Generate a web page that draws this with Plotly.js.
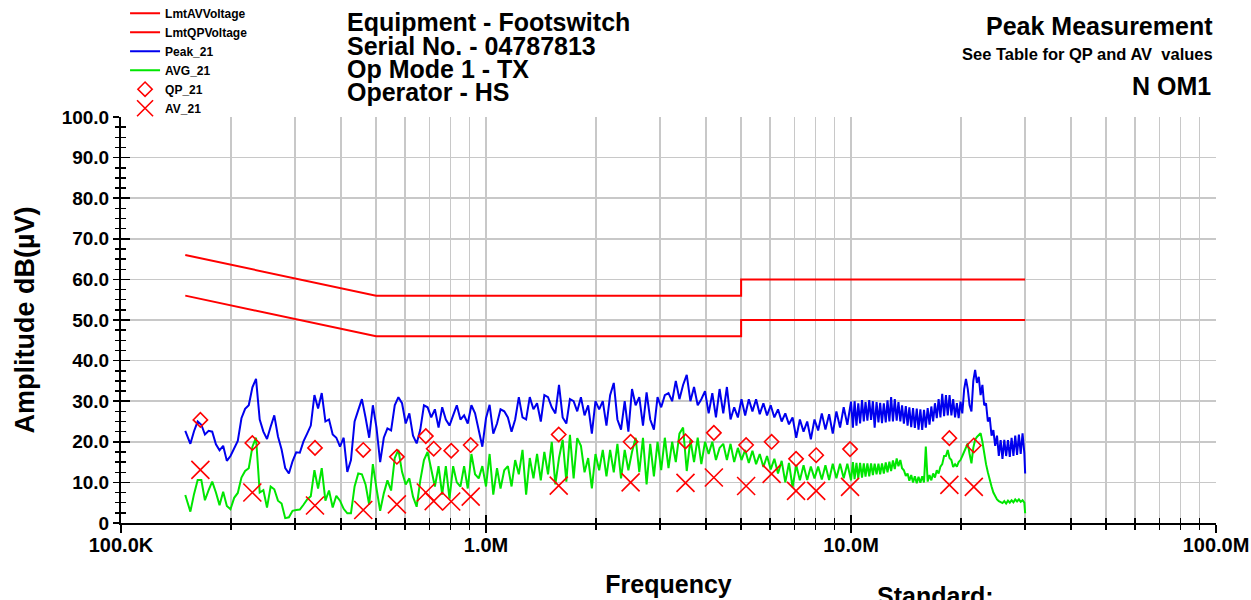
<!DOCTYPE html>
<html>
<head>
<meta charset="utf-8">
<script src="https://cdn.plot.ly/plotly-3.0.1.min.js"></script>
<style>html,body{margin:0;padding:0;background:#fff;}#chart{width:1251px;height:600px;}</style>
</head>
<body>
<div id="chart"></div>
<script>
// ---------- Limit lines (frequency in MHz, level in dBµV) ----------
const limitFreq = [0.15, 0.5, 5, 5, 30];
const limitQP = [66, 56, 56, 60, 60];
const limitAV = [56, 46, 46, 50, 50];

// ---------- Sweep frequencies (MHz) ----------
const freqLow = [0.150, 0.1514,0.1549,0.1585,0.1622,0.1660,0.1698,0.1738,0.1778,0.1820,0.1862,
  0.1905,0.1950,0.1995,0.2042,0.2089,0.2138,0.2188,0.2239,0.2291,0.2344,
  0.2399,0.2455,0.2512,0.2570,0.2630,0.2692,0.2754,0.2818,0.2884,0.2951,
  0.3020,0.3090,0.3162,0.3236,0.3311,0.3388,0.3467,0.3548,0.3631,0.3715,
  0.3802,0.3890,0.3981,0.4074,0.4169,0.4266,0.4365,0.4467,0.4571,0.4677,
  0.4786,0.4898,0.5012,0.5129,0.5248,0.5370,0.5495,0.5623,0.5754];
const freqMid = [0.5888,0.6026,0.6166,0.6310,0.6457,0.6607,0.6761,0.6918,0.7079,0.7244,
  0.7413,0.7586,0.7762,0.7943,0.8128,0.8318,0.8511,0.8710,0.8913,0.9120,
  0.9333,0.9550,0.9772,1.000,1.023,1.047,1.072,1.096,1.122,1.148,
  1.175,1.202,1.230,1.259,1.288,1.318,1.349,1.380,1.413,1.445,
  1.479,1.514,1.549,1.585,1.622,1.660,1.698,1.738,1.778,1.820,
  1.862,1.905,1.950,1.995,2.042,2.089,2.138,2.188,2.239,2.291,
  2.344,2.399,2.455,2.512,2.570,2.630,2.692,2.754,2.818,2.884,
  2.951,3.020,3.090,3.162,3.236,3.311,3.388,3.467,3.548,3.631,
  3.715,3.802,3.890,3.981,4.074,4.169,4.266,4.365,4.467,4.571,
  4.677,4.786,4.898,5.012,5.129,5.248,5.370,5.495,5.623,5.754,
  5.888,6.026,6.166,6.310,6.457,6.607,6.761,6.918,7.079,7.244,
  7.413,7.586,7.762,7.943,8.128,8.318,8.511,8.710,8.913,9.120,
  9.333,9.550,9.772];
const freqHigh = [10.00,10.12,10.23,10.35,10.47,10.59,10.72,10.84,10.96,11.09,
  11.22,11.35,11.48,11.61,11.75,11.89,12.02,12.16,12.30,12.45,
  12.59,12.74,12.88,13.03,13.18,13.34,13.49,13.65,13.80,13.96,
  14.13,14.29,14.45,14.62,14.79,14.96,15.14,15.31,15.49,15.67,
  15.85,16.03,16.22,16.41,16.60,16.79,16.98,17.18,17.38,17.58,
  17.78,17.99,18.20,18.41,18.62,18.84,19.05,19.28,19.50,19.72,
  19.95,20.18,20.42,20.65,20.89,21.13,21.38,21.63,21.88,22.13,
  22.39,22.65,22.91,23.17,23.44,23.71,23.99,24.27,24.55,24.83,
  25.12,25.41,25.70,26.00,26.30,26.61,26.92,27.23,27.54,27.86,
  28.18,28.51,28.84,29.17,29.51,29.85,30.00];

// ---------- Peak_21 (dBµV) ----------
const peakLow = [22.7, 21.8,19.5,22.6,25.0,24.2,21.8,22.7,22.5,19.4,17.9,
  19.0,15.3,16.5,18.3,20.2,25.8,28.1,29.0,33.4,35.5,
  25.5,22.5,20.7,23.7,26.5,21.3,18.1,13.5,12.2,15.2,
  17.4,17.3,20.1,22.0,24.0,31.5,28.2,32.0,25.0,25.5,
  21.8,21.0,18.8,21.0,12.6,15.5,25.0,27.8,30.5,26.0,
  21.0,29.0,23.5,15.0,21.0,23.3,22.8,29.0,31.0];
const peakMid = [29.5,24.5,27.0,21.5,19.6,23.0,29.0,28.5,26.0,28.0,
  23.5,28.5,25.5,24.0,26.5,29.0,25.5,26.5,24.5,29.0,
  27.0,23.0,18.8,25.8,29.1,22.0,24.5,28.0,27.5,26.0,
  22.5,25.5,31.0,26.0,25.5,31.0,28.0,29.5,25.0,31.5,
  31.0,28.5,27.0,34.0,26.0,24.5,30.5,30.0,27.5,31.0,
  26.5,29.0,22.0,30.0,28.0,30.0,24.0,31.5,34.5,25.5,
  23.0,30.0,22.5,33.0,29.0,31.0,24.0,32.2,25.5,23.0,
  31.0,28.5,31.5,32.0,30.0,35.0,30.5,34.0,36.5,30.0,
  33.5,29.0,30.5,32.5,27.0,32.0,26.0,33.0,27.0,33.5,
  25.5,28.5,26.0,30.5,26.5,30.5,27.5,30.5,26.8,29.5,
  26.5,29.0,26.0,28.0,25.0,27.0,24.3,26.0,21.0,25.5,
  22.5,25.0,20.6,25.5,22.8,27.0,23.0,26.8,22.0,27.5,
  23.5,28.5,24.2];
const peakHigh = [29.9,23.5,30.0,24.0,29.5,24.5,30.3,25.0,29.8,25.2,
  30.3,25.4,30.0,23.5,29.8,24.8,29.6,24.6,29.5,24.8,
  30.2,25.0,31.0,25.0,30.5,25.2,29.8,25.0,29.0,24.5,
  28.8,24.0,28.5,23.6,28.3,23.4,28.2,23.0,28.0,22.9,
  27.9,23.5,28.3,24.2,28.7,25.0,29.5,25.8,30.5,26.0,
  31.8,26.3,31.5,26.5,31.5,26.5,30.5,26.0,29.5,25.8,
  29.9,27.0,33.0,35.5,33.0,29.0,27.5,35.0,37.7,34.5,
  36.0,31.5,34.0,29.0,29.5,25.0,26.0,21.5,22.9,19.0,
  21.5,16.5,20.4,15.8,20.5,16.5,20.4,16.3,21.0,16.5,
  21.5,16.8,21.8,17.0,22.1,17.2,12.2];

// ---------- AVG_21 (dBµV) ----------
const avgLow = [6.9, 5.8,2.8,7.1,10.6,10.6,5.6,8.1,10.2,7.5,4.4,
  7.7,4.2,3.4,6.2,7.4,11.2,12.8,13.5,18.8,21.0,
  7.5,8.1,3.8,9.0,8.3,5.5,4.8,1.2,1.4,3.0,
  3.2,3.3,4.5,5.8,6.6,13.0,8.5,13.5,5.5,8.0,
  3.8,6.7,5.5,3.5,2.4,2.4,9.0,12.2,12.0,9.5,
  4.5,14.5,8.5,3.0,7.3,10.5,8.0,16.0,18.0];
const avgMid = [12.6,9.5,11.0,6.5,4.0,10.5,15.5,17.5,13.0,9.0,
  14.0,7.0,14.0,6.0,14.0,10.0,9.0,14.0,8.5,17.0,
  12.0,11.0,14.0,9.0,17.0,7.0,13.5,8.5,13.0,14.0,
  9.0,15.5,12.0,18.0,7.0,16.0,11.0,17.0,10.5,17.5,
  12.0,20.0,9.5,16.0,20.5,10.2,21.7,11.0,20.9,19.0,
  12.5,16.0,8.5,17.0,13.0,18.0,11.5,18.0,12.5,19.5,
  11.0,18.0,13.0,17.5,21.0,12.5,21.0,9.5,19.5,11.5,
  20.0,13.0,21.0,13.5,20.0,15.0,22.0,23.5,12.8,20.5,
  15.0,21.0,14.5,20.0,17.0,20.0,15.5,18.5,19.5,15.5,
  19.5,15.0,18.5,15.5,18.0,14.8,17.8,14.5,17.0,13.8,
  16.5,13.2,15.8,12.2,15.3,10.0,14.8,8.8,14.3,10.5,
  14.2,10.6,13.9,11.0,13.9,10.7,14.2,10.6,14.6,11.0,
  14.6,11.0,14.6];
const avgHigh = [10.5,15.0,10.8,14.8,11.0,14.8,11.2,14.7,11.4,14.7,
  11.5,14.7,11.8,14.6,12.0,14.6,12.0,14.7,12.2,14.9,
  12.5,15.1,12.8,15.4,13.3,15.9,14.0,15.5,13.5,13.0,
  11.6,12.2,10.4,11.8,10.0,11.5,9.8,11.4,9.9,11.5,
  10.0,18.8,10.2,11.8,10.5,12.2,11.2,13.0,12.2,13.9,
  14.5,16.5,16.5,18.0,16.0,15.5,13.8,14.5,13.9,15.0,
  15.5,16.5,17.5,18.5,19.6,17.0,14.7,18.5,20.5,21.2,
  21.7,22.1,20.0,17.0,14.5,12.5,10.5,9.0,7.5,6.5,
  5.8,5.4,5.2,4.9,5.4,4.8,5.5,5.0,5.6,5.1,
  5.8,5.3,5.8,5.2,5.6,5.0,2.4];

// ---------- Final measurements ----------
const markFreq = [0.165,0.229,0.340,0.461,0.570,0.684,0.719,0.803,0.908,1.582,2.49,3.52,4.21,5.16,6.06,7.07,8.03,9.94,18.6,21.7];
const qpVals = [25.4,19.7,18.5,18.0,16.3,21.4,18.3,17.8,19.2,21.8,20.0,20.1,22.2,19.2,20.0,15.8,16.7,18.2,20.9,19.1];
const avVals = [13.1,7.5,4.3,3.2,4.6,7.5,5.4,5.3,6.5,9.2,10.0,9.9,11.2,9.1,12.1,7.9,7.9,8.9,9.4,8.9];

// ---------- Axis ticks ----------
const xTickVals = [0.1, 1, 10, 100];
const xTickText = ['100.0K', '1.0M', '10.0M', '100.0M'];
const xMinorVals = [0.2,0.3,0.4,0.5,0.6,0.7,0.8,0.9, 2,3,4,5,6,7,8,9, 20,30,40,50,60,70,80,90];
const yTickVals = [0,10,20,30,40,50,60,70,80,90,100];
const yTickText = ['0','10.0','20.0','30.0','40.0','50.0','60.0','70.0','80.0','90.0','100.0'];

const freqMHz = freqLow.concat(freqMid, freqHigh);
const peak21 = peakLow.concat(peakMid, peakHigh);
const avg21 = avgLow.concat(avgMid, avgHigh);

const FONT = 'Liberation Sans, Arial, sans-serif';
const RED = '#ff0000', BLUE = '#0000ee', GREEN = '#00e600';

const traces = [
  {x: limitFreq, y: limitAV, name: 'LmtAVVoltage', mode: 'lines', line: {color: RED, width: 2}},
  {x: limitFreq, y: limitQP, name: 'LmtQPVoltage', mode: 'lines', line: {color: RED, width: 2}},
  {x: freqMHz, y: peak21, name: 'Peak_21', mode: 'lines', line: {color: BLUE, width: 2}},
  {x: freqMHz, y: avg21, name: 'AVG_21', mode: 'lines', line: {color: GREEN, width: 2}},
  {x: markFreq, y: qpVals, name: 'QP_21', mode: 'markers',
   marker: {symbol: 'diamond-open', size: 11, color: RED, line: {color: RED, width: 1.6}}},
  {x: markFreq, y: avVals, name: 'AV_21', mode: 'markers',
   marker: {symbol: 'x-thin-open', size: 18, color: RED, line: {color: RED, width: 1.6}}},
  {x: [], y: [], xaxis: 'x2', yaxis: 'y2', showlegend: false, hoverinfo: 'skip', mode: 'lines'}
];

const GRID = '#c8c8c8';
const layout = {
  width: 1251, height: 600, autosize: false,
  paper_bgcolor: '#ffffff', plot_bgcolor: '#ffffff',
  margin: {l: 121, r: 35, t: 117, b: 77, pad: 0, autoexpand: false},
  font: {family: FONT, color: '#000', weight: 'bold'},
  showlegend: true,
  legend: {x: 0.0037, y: 1.2914, xanchor: 'left', yanchor: 'top',
           bgcolor: 'rgba(0,0,0,0)',
           font: {family: FONT, size: 12, color: '#000', weight: 'bold'}, itemwidth: 30, tracegroupgap: 0},
  xaxis: {
    type: 'log', range: [-1, 2], tickmode: 'array', tickvals: xTickVals, ticktext: xTickText,
    ticks: 'outside', ticklen: 8, tickwidth: 1.5, tickcolor: '#000', ticklabelstandoff: -5,
    showline: true, linecolor: '#000', linewidth: 2, mirror: false,
    showgrid: true, gridcolor: GRID, gridwidth: 1.5, zeroline: false,
    tickfont: {family: FONT, size: 20, color: '#000', weight: 'bold'},
    minor: {tickmode: 'array', tickvals: xMinorVals, ticks: 'outside', ticklen: 5, tickwidth: 1.5, tickcolor: '#000',
            showgrid: true, gridcolor: GRID, gridwidth: 1.5},
    title: {text: 'Frequency', font: {family: FONT, size: 25, color: '#000', weight: 'bold'}, standoff: 20}
  },
  xaxis2: {
    type: 'log', range: [-1, 2], overlaying: 'x', anchor: 'y', side: 'bottom',
    tickmode: 'array', tickvals: xTickVals, ticks: 'inside', ticklen: 8, tickwidth: 1.5, tickcolor: '#000',
    showticklabels: false, showgrid: false, showline: false, zeroline: false,
    minor: {tickmode: 'array', tickvals: xMinorVals, ticks: 'inside', ticklen: 5, tickwidth: 1.5, tickcolor: '#000', showgrid: false}
  },
  yaxis: {
    range: [0, 100], tickmode: 'array', tickvals: yTickVals, ticktext: yTickText,
    ticks: 'outside', ticklen: 6, tickwidth: 1.5, tickcolor: '#000',
    showline: true, linecolor: '#000', linewidth: 2,
    showgrid: true, gridcolor: GRID, gridwidth: 1.5, zeroline: false,
    tickfont: {family: FONT, size: 19, color: '#000', weight: 'bold'},
    minor: {dtick: 2.5, tick0: 0, ticks: 'outside', ticklen: 4, tickwidth: 1.5, tickcolor: '#000', showgrid: false},
    title: {text: 'Amplitude dB(µV)', font: {family: FONT, size: 27, color: '#000', weight: 'bold'}, standoff: 19}
  },
  yaxis2: {
    range: [0, 100], overlaying: 'y', anchor: 'x', side: 'left',
    tickmode: 'array', tickvals: yTickVals, ticks: 'inside', ticklen: 9, tickwidth: 1.5, tickcolor: '#000',
    showticklabels: false, showgrid: false, showline: false, zeroline: false,
    minor: {dtick: 2.5, tick0: 0, ticks: 'inside', ticklen: 5, tickwidth: 1.5, tickcolor: '#000', showgrid: false}
  },
  annotations: [
    {text: 'Equipment - Footswitch', xref: 'paper', yref: 'paper', x: 0.2046, y: 1.234, xanchor: 'left', yanchor: 'middle', showarrow: false, font: {family: FONT, size: 25, color: '#000', weight: 'bold'}},
    {text: 'Serial No. - 04787813', xref: 'paper', yref: 'paper', x: 0.2046, y: 1.1749, xanchor: 'left', yanchor: 'middle', showarrow: false, font: {family: FONT, size: 25, color: '#000', weight: 'bold'}},
    {text: 'Op Mode 1 - TX', xref: 'paper', yref: 'paper', x: 0.2046, y: 1.1182, xanchor: 'left', yanchor: 'middle', showarrow: false, font: {family: FONT, size: 25, color: '#000', weight: 'bold'}},
    {text: 'Operator - HS', xref: 'paper', yref: 'paper', x: 0.2046, y: 1.0616, xanchor: 'left', yanchor: 'middle', showarrow: false, font: {family: FONT, size: 25, color: '#000', weight: 'bold'}},
    {text: 'Peak Measurement', xref: 'paper', yref: 'paper', x: 0.9991, y: 1.2242, xanchor: 'right', yanchor: 'middle', showarrow: false, font: {family: FONT, size: 25, color: '#000', weight: 'bold'}},
    {text: 'See Table for QP and AV  values', xref: 'paper', yref: 'paper', x: 0.9991, y: 1.1552, xanchor: 'right', yanchor: 'middle', showarrow: false, font: {family: FONT, size: 16.5, color: '#000', weight: 'bold'}},
    {text: 'N OM1', xref: 'paper', yref: 'paper', x: 0.9973, y: 1.0764, xanchor: 'right', yanchor: 'middle', showarrow: false, font: {family: FONT, size: 25, color: '#000', weight: 'bold'}},
    {text: 'Standard:', xref: 'paper', yref: 'paper', x: 0.6886, y: -0.179, xanchor: 'left', yanchor: 'middle', showarrow: false, font: {family: FONT, size: 25, color: '#000', weight: 'bold'}}
  ]
};

Plotly.newPlot('chart', traces, layout, {displayModeBar: false, staticPlot: true});
</script>
</body>
</html>
